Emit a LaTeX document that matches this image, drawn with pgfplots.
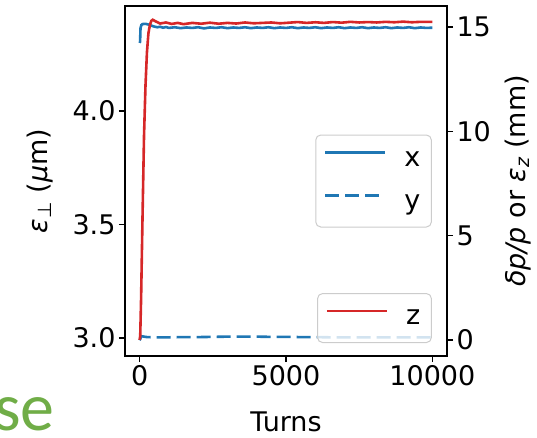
\documentclass[border=0pt]{standalone}
\usepackage{pgfplots}
\pgfplotsset{compat=1.18}
\usepackage{fontspec}
\setmainfont{DejaVu Sans}
\newfontfamily\slidefont{Carlito}
\definecolor{mblue}{HTML}{1F77B4}
\definecolor{mred}{HTML}{D62728}
\definecolor{sgreen}{HTML}{70AD47}
\newcommand{\fs}{\fontsize{27}{32}\selectfont}
\pgfplotsset{longleg/.style={legend image code/.code={\draw[##1] (0pt,7pt) -- (60pt,7pt);}}}
\begin{document}
\begin{tikzpicture}
\pgfplotsset{
  every axis/.append style={
    scale only axis, width=322pt, height=350pt,
    xmin=-500, xmax=10500,
    axis line style={line width=1.2pt},
    every tick/.style={line width=1.2pt, black},
    tick align=outside, major tick length=6pt,
    ticklabel style={font=\fs},
    label style={font=\fs},
    /pgf/number format/assume math mode=true,
    /pgf/number format/set thousands separator={},
    scaled x ticks=false,
    legend style={font=\fs, draw=black!20, rounded corners=5pt, fill=white,
      fill opacity=0.8, text opacity=1, line width=1pt,
      inner xsep=8pt, inner ysep=10pt, row sep=14pt,
      nodes={inner sep=3pt, text height=18pt, text depth=5pt},
      /tikz/every odd column/.append style={column sep=15pt}},
    legend cell align=left,
  }
}
\begin{axis}[name=ax1,
  ymin=2.9207, ymax=4.4626,
  xtick={0,5000,10000}, xtick pos=bottom,
  ytick={3.0,3.5,4.0}, ytick pos=left,
  yticklabel style={/pgf/number format/.cd, fixed, fixed zerofill, precision=1},
  xlabel={Turns},
  xlabel style={at={(axis description cs:0.5,-0.187)}, anchor=center},
  ylabel={{\itshape ε}\textsubscript{⊥} ({\itshape μ}m)},
  ylabel style={at={(axis description cs:-0.265,0.5)}, anchor=center, rotate=0},
  legend style={at={(0.953,0.5)}, anchor=east},
]
\addplot[mblue, line width=2.6pt, longleg] coordinates {
(0,4.300) (15,4.305) (30,4.365) (60,4.379) (100,4.383) (200,4.384) (300,4.381)
(400,4.376) (500,4.372) (600,4.369) (700,4.371) (800,4.367) (900,4.370)
(1000,4.366) (1200,4.369) (1400,4.365) (1600,4.368) (1800,4.366) (2000,4.369)
(2200,4.364) (2400,4.368) (2600,4.366) (2800,4.369) (3000,4.365) (3200,4.368)
(3400,4.366) (3600,4.369) (3800,4.365) (4000,4.368) (4200,4.366) (4400,4.369)
(4600,4.365) (4800,4.368) (5000,4.366) (5200,4.369) (5400,4.365) (5600,4.368)
(5800,4.366) (6000,4.369) (6200,4.365) (6400,4.368) (6600,4.366) (6800,4.369)
(7000,4.365) (7200,4.368) (7400,4.366) (7600,4.369) (7800,4.365) (8000,4.368)
(8200,4.366) (8400,4.369) (8600,4.365) (8800,4.368) (9000,4.366) (9200,4.369)
(9400,4.365) (9600,4.368) (9800,4.366) (10000,4.367)
};
\addlegendentry{x}
\addplot[mblue, line width=2.6pt, dash pattern=on 14pt off 6pt, longleg] coordinates {
(0,2.990) (20,2.995) (50,3.008) (100,3.007) (250,3.004) (500,3.003)
(1000,3.003) (1500,3.004) (2000,3.004) (2500,3.005) (3000,3.006) (3500,3.006)
(4000,3.006) (4500,3.005) (5000,3.005) (5500,3.004) (6000,3.004) (6500,3.003)
(7000,3.003) (7500,3.003) (8000,3.003) (8500,3.003) (9000,3.003) (9500,3.003)
(10000,3.003)
};
\addlegendentry{y}
\end{axis}
\begin{axis}[name=ax2,
  ymin=-0.77, ymax=16.01,
  hide x axis,
  axis y line*=right,
  ytick={0,5,10,15}, ytick pos=right,
  ylabel={{\itshape δp/p} or {\itshape ε}\textsubscript{\itshape z} (mm)},
  ylabel style={at={(axis description cs:1.22,0.5)}, anchor=center, rotate=0},
  legend style={at={(0.953,0.037)}, anchor=south east},
]
\addplot[mred, line width=2.6pt, longleg] coordinates {
(0,0.0) (20,0.2) (50,2.0) (100,6.0) (150,9.8) (200,12.2) (250,13.8)
(300,14.7) (350,15.1) (400,15.3) (450,15.35) (550,15.27) (700,15.17)
(900,15.22) (1100,15.15) (1300,15.2) (1500,15.14) (1800,15.2) (2100,15.16)
(2400,15.21) (2700,15.16) (3000,15.2) (3300,15.17) (3600,15.22) (3900,15.18)
(4200,15.2) (4500,15.22) (4800,15.18) (5100,15.21) (5400,15.24) (5700,15.2)
(6000,15.23) (6300,15.2) (6600,15.24) (6900,15.21) (7200,15.25) (7500,15.22)
(7800,15.24) (8100,15.22) (8400,15.25) (8700,15.23) (9000,15.26) (9300,15.23)
(9600,15.25) (10000,15.25)
};
\addlegendentry{z}
\end{axis}
\node[anchor=base east, inner sep=0pt, text=sgreen,
  font=\slidefont\fontsize{68}{74}\selectfont]
  at ([shift={(-70pt,-74pt)}]ax1.south west) {se};
\pgfresetboundingbox
\path ([shift={(-125pt,-81pt)}]ax1.south west) rectangle ([shift={(90pt,6pt)}]ax1.north east);
\end{tikzpicture}
\end{document}
